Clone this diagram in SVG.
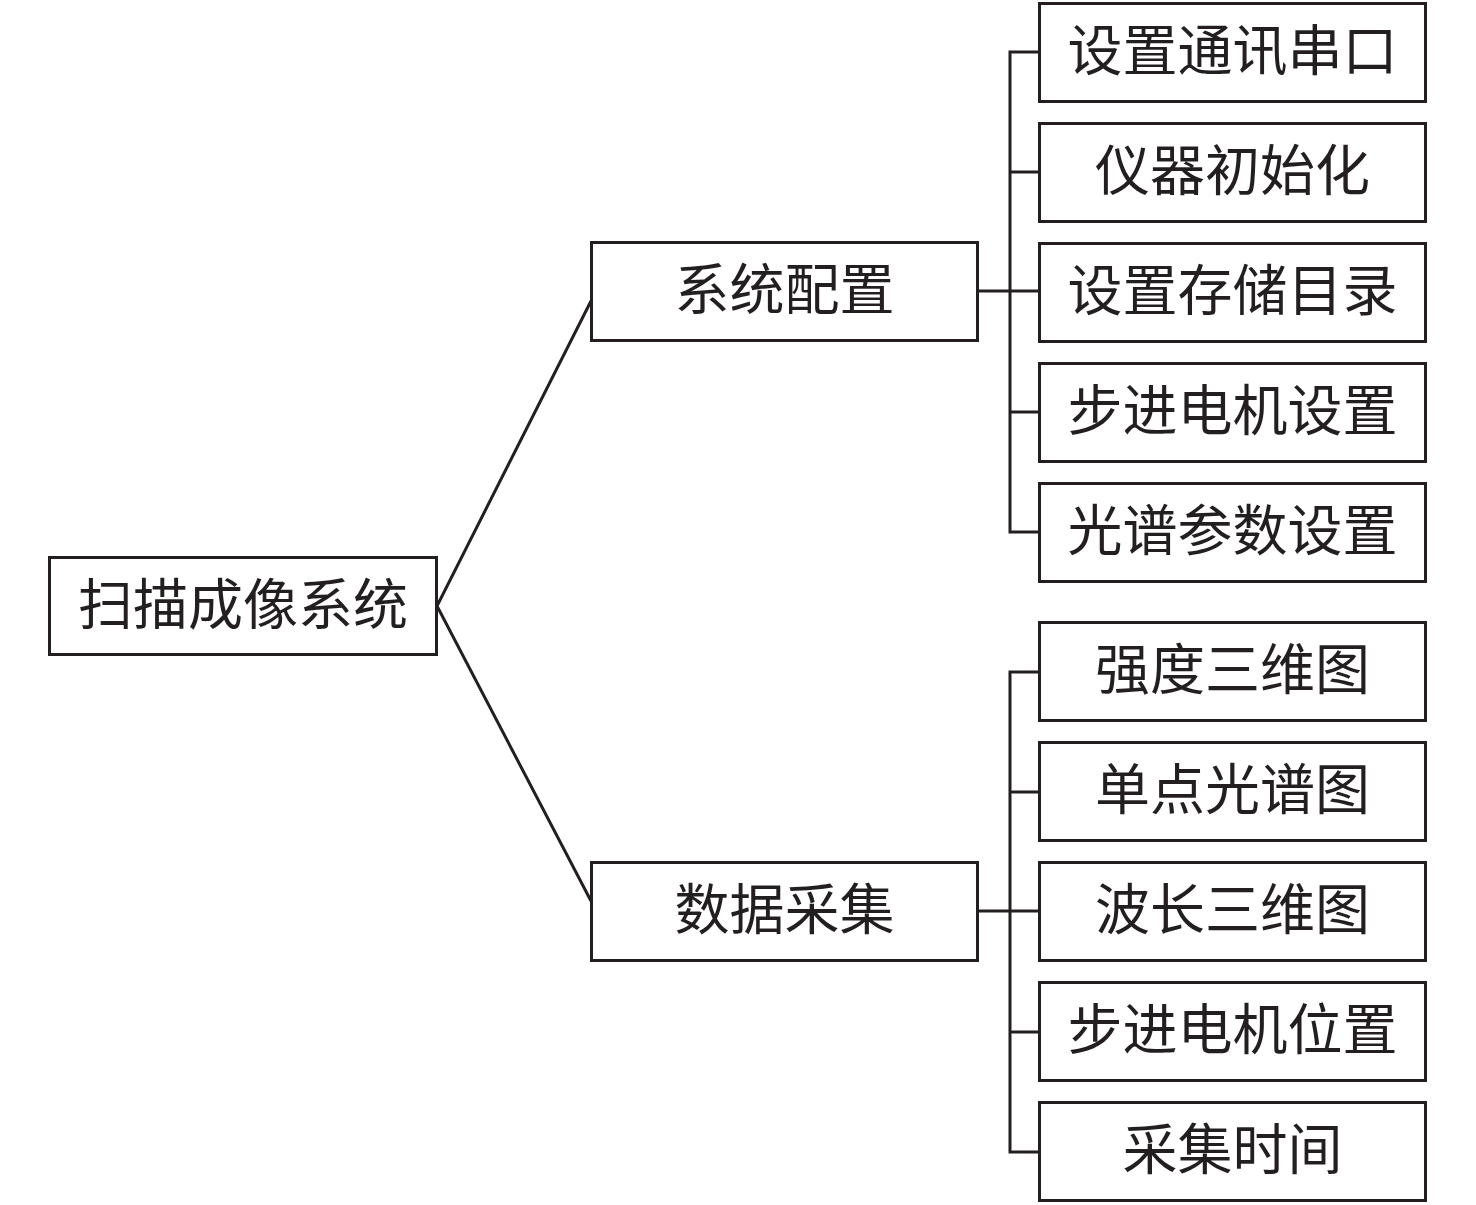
<svg xmlns="http://www.w3.org/2000/svg" width="1476" height="1205" viewBox="0 0 1476 1205">
<style>
.box{fill:#fff;stroke:#231f20;stroke-width:3}
.ln{fill:none;stroke:#231f20;stroke-width:3}
text{font-family:"Noto Sans CJK SC","Noto Sans CJK JP",sans-serif;font-size:55px;fill:#231f20;text-anchor:middle}
</style>
<rect width="1476" height="1205" fill="#fff"/>
<g id="connectors">
<polyline class="ln" points="591,301 437,606 591,901"/>
<path class="ln" d="M978,291 H1039 M1039,52 H1010 V532 H1039 M1010,172 H1039 M1010,412 H1039"/>
<path class="ln" d="M978,911 H1039 M1039,672 H1010 V1152 H1039 M1010,792 H1039 M1010,1032 H1039"/>
</g>
<g id="root"><rect class="box" x="49.5" y="557.5" width="387" height="97"/><text x="243" y="624">扫描成像系统</text></g>
<g id="sys"><rect class="box" x="591.5" y="242.5" width="386" height="98"/><text x="784.5" y="309">系统配置</text></g>
<g id="data"><rect class="box" x="591.5" y="862.5" width="386" height="98"/><text x="784.5" y="929">数据采集</text></g>
<g id="n1"><rect class="box" x="1039.5" y="3.5" width="386" height="98"/><text x="1232.5" y="70">设置通讯串口</text></g>
<g id="n2"><rect class="box" x="1039.5" y="123.5" width="386" height="98"/><text x="1232.5" y="190">仪器初始化</text></g>
<g id="n3"><rect class="box" x="1039.5" y="243.5" width="386" height="98"/><text x="1232.5" y="310">设置存储目录</text></g>
<g id="n4"><rect class="box" x="1039.5" y="363.5" width="386" height="98"/><text x="1232.5" y="430">步进电机设置</text></g>
<g id="n5"><rect class="box" x="1039.5" y="483.5" width="386" height="98"/><text x="1232.5" y="550">光谱参数设置</text></g>
<g id="n6"><rect class="box" x="1039.5" y="622.5" width="386" height="98"/><text x="1232.5" y="689">强度三维图</text></g>
<g id="n7"><rect class="box" x="1039.5" y="742.5" width="386" height="98"/><text x="1232.5" y="809">单点光谱图</text></g>
<g id="n8"><rect class="box" x="1039.5" y="862.5" width="386" height="98"/><text x="1232.5" y="929">波长三维图</text></g>
<g id="n9"><rect class="box" x="1039.5" y="982.5" width="386" height="98"/><text x="1232.5" y="1049">步进电机位置</text></g>
<g id="n10"><rect class="box" x="1039.5" y="1102.5" width="386" height="98"/><text x="1232.5" y="1169">采集时间</text></g>
</svg>
